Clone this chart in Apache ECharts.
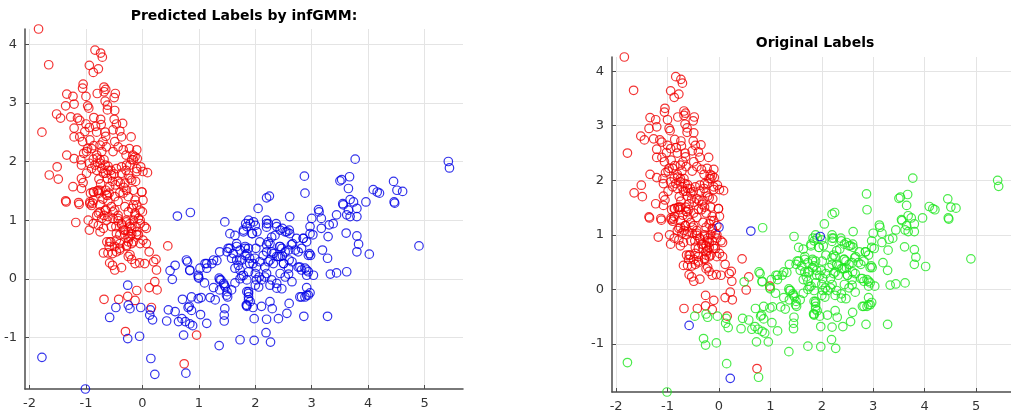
<!DOCTYPE html>
<html>
<head>
<meta charset="utf-8">
<script src="https://cdn.jsdelivr.net/npm/echarts@6/dist/echarts.min.js"></script>
<style>
html, body { margin: 0; padding: 0; background: #fff; }
#chart { width: 1011px; height: 414px; }
</style>
</head>
<body>
<div id="chart"></div>
<script>
// axis ranges and tick labels
var xRange = [-2.08, 5.68];
var yRange = [-1.88, 4.26];
var xTickLabels = [-2, -1, 0, 1, 2, 3, 4, 5];
var yTickLabels = [-1, 0, 1, 2, 3, 4];

// red in both plots
var redBoth = [
    [-1.84,4.26],[-1.66,3.65],[-0.84,3.90],[-0.74,3.85],[-0.71,3.78],[-0.94,3.64],[-0.78,3.58],[-0.87,3.52],
    [-1.05,3.32],[-1.06,3.25],[-1.0,3.11],[-0.68,3.27],[-0.65,3.23],[-0.68,3.19],[-0.80,3.16],[-0.48,3.16],[-0.50,3.09],
    [-1.34,3.15],[-1.23,3.11],[-0.97,2.95],[-0.95,2.91],[-1.36,2.95],[-1.21,2.98],[-1.52,2.81],[-1.45,2.74],[-1.27,2.76],
    [-0.66,3.03],[-0.62,2.96],[-0.62,2.88],[-0.49,2.87],[-0.86,2.75],[-0.74,2.72],[-1.15,2.74],[-1.11,2.70],[-1.21,2.57],
    [-1.0,2.64],[-0.94,2.58],[-1.02,2.51],[-0.83,2.6],[-0.73,2.63],[-0.81,2.5],[-0.5,2.72],[-0.46,2.64],[-0.52,2.54],
    [-0.35,2.65],[-0.40,2.52],[-0.37,2.42],[-0.2,2.42],[-1.78,2.50],[-1.21,2.42],[-1.11,2.42],[-1.06,2.34],[-0.93,2.37],
    [-0.86,2.27],[-0.97,2.22],[-0.66,2.5],[-0.65,2.43],[-0.7,2.34],[-0.64,2.25],[-0.75,2.28],[-0.72,2.17],[-0.49,2.34],
    [-0.43,2.25],[-0.52,2.17],[-0.34,2.2],[-0.23,2.22],[-0.29,2.11],[-0.17,2.11],[-0.1,2.2],[-0.09,2.05],[-0.16,2.03],
    [-1.34,2.11],[-1.21,2.05],[-1.51,1.91],[-1.65,1.77],[-1.49,1.70],[-1.09,2.03],[-1.04,2.14],[-1.08,1.94],[-0.94,1.97],
    [-0.87,2.04],[-0.9,1.88],[-0.99,1.8],[-1.08,1.71],[-1.05,1.64],[-0.8,2.06],[-0.75,1.97],[-0.68,2.03],[-0.72,1.88],
    [-0.81,1.85],[-0.65,1.8],[-0.61,1.92],[-0.56,1.85],[-0.5,1.79],[-0.62,1.71],[-0.53,1.66],[-0.48,1.6],[-0.37,1.91],
    [-0.29,1.85],[-0.22,1.94],[-0.25,1.77],[-0.19,1.68],[-0.12,1.66],[-0.1,1.88],[-0.03,1.91],[0.01,1.83],[0.09,1.81],
    [-0.01,1.48],[0.01,1.34],[-0.39,1.63],[-0.33,1.56],[-0.4,1.47],[-0.28,1.51],[-0.25,1.4],[-0.65,1.51],[-0.59,1.46],
    [-0.62,1.42],[-0.7,1.36],[-0.61,1.33],[-0.77,1.70],[-0.74,1.62],[-0.78,1.51],[-0.92,1.46],[-0.86,1.48],[-0.8,1.5],
    [-0.77,1.46],[-1.23,1.57],[-1.08,1.54],[-1.36,1.33],[-1.13,1.30],[-0.93,1.31],[-0.88,1.29],[-0.43,1.32],[-0.13,1.34],
    [-0.1,1.26],
    [-1.35,1.31],[-1.12,1.27],[-0.93,1.28],[-0.9,1.25],[-1.18,0.96],[-0.96,1.0],[-0.87,0.94],[-0.94,0.83],
    [-0.81,1.08],[-0.75,1.14],[-0.68,1.08],[-0.65,1.17],[-0.72,1.03],[-0.63,1.0],[-0.78,0.91],[-0.69,0.86],[-0.75,0.8],
    [-0.55,1.23],[-0.49,1.17],[-0.43,1.08],[-0.52,1.03],[-0.43,0.99],[-0.47,0.89],[-0.37,0.92],
    [-0.31,1.23],[-0.25,1.14],[-0.19,1.2],[-0.13,1.12],[-0.16,1.26],[-0.04,1.17],
    [-0.28,1.0],[-0.22,0.94],[-0.19,0.86],[-0.25,0.8],[-0.13,0.89],[-0.1,0.8],[-0.04,0.94],[-0.07,1.03],[-0.16,1.0],
    [-0.34,0.83],[-0.31,0.75],[-0.22,0.72],[-0.25,0.63],[-0.19,0.6],[-0.28,0.55],
    [-0.4,0.75],[-0.46,0.66],[-0.4,0.6],[-0.49,0.55],[-0.4,0.49],
    [-0.63,0.63],[-0.56,0.63],[-0.59,0.55],[-0.69,0.44],[-0.61,0.44],[-0.53,0.43],[-0.46,0.46],
    [-0.58,0.27],[-0.53,0.23],[-0.49,0.15],[-0.37,0.19],[-0.25,0.38],[-0.22,0.41],[-0.19,0.33],
    [-0.13,0.26],[-0.05,0.27],[0.04,0.26],[-0.04,0.6],[-0.1,0.75],[0.01,0.66],[0.07,0.86],[0.12,0.46],[0.2,0.29],
    [0.24,0.33],[0.25,0.15],[0.45,0.56],
    [0.12,-0.15],[0.22,-0.05],[0.26,-0.19],[-0.1,-0.2],[-0.26,-0.3],[-0.13,-0.37],[-0.42,-0.35],[-0.68,-0.35],
    [0.16,-0.49],[0.74,-1.45],
    [-0.99,2.17],[-0.9,2.22],[-0.81,2.11],[-0.75,2.03],[-0.84,1.94],[-0.66,1.94],[-0.61,1.85],[-0.69,1.8],
    [-0.55,1.77],[-0.46,1.88],[-0.37,1.8],[-0.28,1.94],[-0.19,2.03],[-0.13,2.08],[-0.1,1.83],[-0.22,1.71],
    [-0.31,1.63],[-0.43,1.66],[-0.58,1.57],[-0.75,1.51],[-0.87,1.48],[-0.64,1.43],[-0.49,1.4],[-0.34,1.46],
    [-0.16,1.51],[-0.01,1.48],
    [-0.87,1.34],[-0.75,1.26],[-0.66,1.17],[-0.78,1.12],[-0.61,1.06],[-0.52,1.14],[-0.43,1.03],[-0.37,0.94],
    [-0.28,0.97],[-0.22,0.89],[-0.31,0.83],[-0.19,0.77],[-0.25,0.69],[-0.16,0.63],[-0.28,0.57],[-0.13,1.09],
    [-0.04,1.0],[0.04,0.89],[-0.46,0.77],[-0.58,0.63],[-0.4,0.52],[0.07,0.6],[-0.07,0.75],[-0.55,0.89]
];

// blue on the left, green on the right
var blueGreen = [
    [-0.25,-0.45],[-0.22,-0.51],[-0.47,-0.49],[-0.03,-0.49],[0.13,-0.62],[0.18,-0.70],[0.14,-0.53],[-0.26,-1.02],[-0.05,-0.98],
    [-1.78,-1.34],[-1.01,-1.88],[0.15,-1.36],[0.77,-1.61],[0.73,-0.96],[1.36,-1.14],[1.73,-1.04],[0.85,1.13],
    [0.46,-0.53],[0.43,-0.72],[0.58,-0.56],[0.64,-0.73],[0.7,-0.68],[0.76,-0.73],[0.84,-0.77],[0.89,-0.8],
    [0.71,-0.35],[0.81,-0.49],[0.87,-0.54],[0.83,-0.47],[0.87,-0.31],[0.99,-0.34],[1.04,-0.32],[1.03,-0.61],[1.14,-0.76],
    [1.2,-0.32],[1.29,-0.36],[1.37,-0.19],[1.46,-0.51],[1.45,-0.62],[1.45,-0.72],
    [0.49,0.14],[0.8,0.29],[0.84,0.14],[1.0,0.01],[1.11,0.26],[1.14,0.18],[1.1,-0.07],[1.23,0.26],[1.32,0.31],
    [1.36,0.01],[1.39,-0.02],[1.44,-0.08],[1.47,-0.14],[1.5,-0.22],[1.51,-0.31],[1.26,-0.15],
    [1.5,0.46],[1.55,0.52],[1.61,0.43],[1.58,0.35],[1.67,0.32],[1.7,0.23],[1.64,0.18],
    [1.73,0.0],[1.76,0.05],[1.85,-0.02],[1.64,-0.07],[1.55,0.77],[1.46,0.97],[1.64,0.74],[1.79,0.83],[1.85,0.89],[1.88,1.0],
    [1.67,0.6],[1.73,0.49],[1.82,0.55],[1.85,-0.22],[1.88,-0.31],[1.84,-0.45],
    [2.05,1.2],[1.79,0.8],[1.91,0.94],[2.0,0.91],[2.03,0.8],[1.94,0.77],
    [2.2,1.0],[2.23,0.94],[2.2,0.88],[2.37,0.94],[2.44,0.83],[2.48,0.86],[2.53,0.8],[2.61,0.77],[2.6,0.83],[2.61,1.06],
    [2.29,0.71],[2.35,0.74],[2.23,0.63],[2.2,0.58],
    [1.82,0.52],[1.88,0.52],[1.85,0.43],[2.01,0.52],[1.76,0.32],[1.9,0.35],[1.96,0.26],[2.02,0.2],
    [1.73,0.15],[1.79,0.06],[1.88,0.12],[2.0,0.09],[2.07,0.03],[2.11,-0.02],[2.0,-0.11],[2.06,-0.14],
    [2.14,0.4],[2.2,0.46],[2.29,0.46],[2.23,0.29],[2.32,0.26],[2.38,0.38],[2.44,0.38],[2.48,0.39],
    [2.43,0.55],[2.47,0.52],[2.53,0.46],[2.59,0.49],[2.64,0.58],[2.66,0.6],
    [2.5,0.26],[2.65,0.29],[2.71,0.49],[2.76,0.46],[2.82,0.52],
    [2.2,0.09],[2.29,-0.02],[2.38,-0.08],[2.47,-0.17],[2.65,-0.05],[2.44,0.09],[2.59,0.08],
    [2.76,0.2],[2.82,0.15],[2.88,0.18],[2.94,0.12],[3.03,0.06],[2.91,0.06],
    [2.85,0.69],[2.91,0.63],[2.97,0.77],[3.02,0.75],[2.97,0.89],[2.96,0.43],[2.98,0.4],
    [3.0,1.03],[3.13,1.14],[3.17,1.03],[3.17,0.86],[3.29,0.72],[3.31,0.92],[3.38,0.94],[3.44,1.09],
    [3.56,1.26],[3.65,1.17],[3.62,1.09],[3.68,1.06],[3.8,1.2],[3.8,1.06],
    [3.61,0.78],[3.8,0.73],[3.83,0.59],[3.8,0.46],[4.02,0.42],[3.19,0.49],[3.28,0.35],
    [3.33,0.08],[3.44,0.1],[3.62,0.12],[4.47,1.29],[4.9,0.56],
    [1.88,-0.22],[1.88,-0.36],[1.85,-0.47],[1.96,-0.49],[2.11,-0.47],[2.3,-0.51],[2.26,-0.39],[2.6,-0.42],[2.56,-0.59],
    [1.98,-0.68],[2.2,-0.69],[2.41,-0.68],[2.79,-0.31],[2.88,-0.31],[2.94,-0.28],[2.97,-0.24],[2.91,-0.15],[2.86,-0.64],
    [3.28,-0.64],[2.19,-0.92],[2.27,-1.08],[1.98,-1.05],
    [3.77,2.04],[5.42,2.0],[5.44,1.89],[2.87,1.75],[2.88,1.46],[2.2,1.38],[2.25,1.41],
    [3.5,1.67],[3.53,1.69],[3.67,1.74],[3.65,1.54],[3.68,1.35],[3.74,1.31],[3.55,1.28],[3.96,1.31],
    [4.09,1.52],[4.16,1.48],[4.2,1.46],[4.45,1.66],[4.51,1.51],[4.61,1.49],[4.46,1.31],[3.12,1.18],
    [1.37,0.46],[1.52,0.52],[1.67,0.55],[1.73,0.32],[1.82,0.4],[1.9,0.26],[1.99,0.35],[2.08,0.29],
    [2.17,0.2],[2.26,0.32],[2.32,0.43],[2.41,0.38],[2.5,0.26],[2.59,0.18],[2.6,0.32],[2.44,0.55],
    [2.26,0.6],[2.08,0.63],[1.95,0.77],[1.83,0.94],[2.2,0.94],[2.38,0.89],[2.56,0.8],[2.73,0.69],
    [2.85,0.69],[2.94,0.4],[2.79,0.2],[2.91,0.15],[1.37,-0.02],[1.45,-0.11],[1.58,-0.19],[1.49,-0.28],
    [1.88,-0.25],[1.91,-0.39],[1.85,-0.45],[2.02,-0.02],[2.17,0.03],[2.26,-0.11],[2.38,-0.16],[2.53,0.03],
    [2.82,-0.31],[2.91,-0.28],[1.02,0.18],[1.14,0.26],[1.26,0.32],[0.99,0.03],[0.78,0.32],[0.84,0.15]
];

// points whose colour differs between the two plots
var redGreen = [[-0.3,-0.9],[0.96,-0.96]];
var redBlue = [[0.0,1.14]];
var blueRed = [[-0.26,-0.11],[0.58,0.23],[0.53,-0.01],[0.99,0.06]];
var blueBlue = [[-0.58,-0.66],[0.22,-1.63],[0.62,1.07],[1.97,0.97]];

var chart = echarts.init(document.getElementById('chart'));

function makeAxis(gridIndex, range, labels) {
    return {
        gridIndex: gridIndex,
        type: 'value',
        min: range[0],
        max: range[1],
        minInterval: 1,
        maxInterval: 1,
        axisLine: {show: true, onZero: false, lineStyle: {color: '#4d4d4d', width: 1.5}},
        axisTick: {show: true, inside: true, length: 4, lineStyle: {color: '#4d4d4d'}},
        axisLabel: {
            color: '#333',
            fontSize: 13,
            fontFamily: 'DejaVu Sans',
            margin: 8,
            showMinLabel: false,
            showMaxLabel: false,
            formatter: function (val) {
                return labels.indexOf(val) >= 0 ? String(val) : '';
            }
        },
        splitLine: {show: true, showMinLine: false, showMaxLine: false, lineStyle: {color: '#e4e4e4', width: 1}}
    };
}

function circles(idx, data, color) {
    return {
        type: 'scatter',
        xAxisIndex: idx,
        yAxisIndex: idx,
        data: data,
        symbol: 'circle',
        symbolSize: 8.5,
        itemStyle: {color: 'rgba(0,0,0,0)', borderColor: color, borderWidth: 1.2},
        emphasis: {disabled: true}
    };
}

var option = {
    animation: false,
    backgroundColor: '#fff',
    title: [
        {text: 'Predicted Labels by infGMM:', left: 244, top: 9, textAlign: 'center', padding: 0,
            textStyle: {fontSize: 14, fontWeight: 'bold', color: '#000', fontFamily: 'DejaVu Sans'}},
        {text: 'Original Labels', left: 815, top: 36, textAlign: 'center', padding: 0,
            textStyle: {fontSize: 14, fontWeight: 'bold', color: '#000', fontFamily: 'DejaVu Sans'}}
    ],
    grid: [
        {left: 25, top: 29, width: 438, height: 360},
        {left: 612, top: 57, width: 406, height: 335}
    ],
    xAxis: [makeAxis(0, xRange, xTickLabels), makeAxis(1, xRange, xTickLabels)],
    yAxis: [makeAxis(0, yRange, yTickLabels), makeAxis(1, yRange, yTickLabels)],
    series: [
        circles(0, redBoth.concat(redGreen, redBlue), '#f00000'),
        circles(0, blueGreen.concat(blueRed, blueBlue), '#0000e6'),
        circles(1, redBoth.concat(blueRed), '#f00000'),
        circles(1, blueGreen.concat(redGreen), '#1ee61e'),
        circles(1, blueBlue.concat(redBlue), '#0000e6')
    ]
};

chart.setOption(option);
</script>
</body>
</html>
